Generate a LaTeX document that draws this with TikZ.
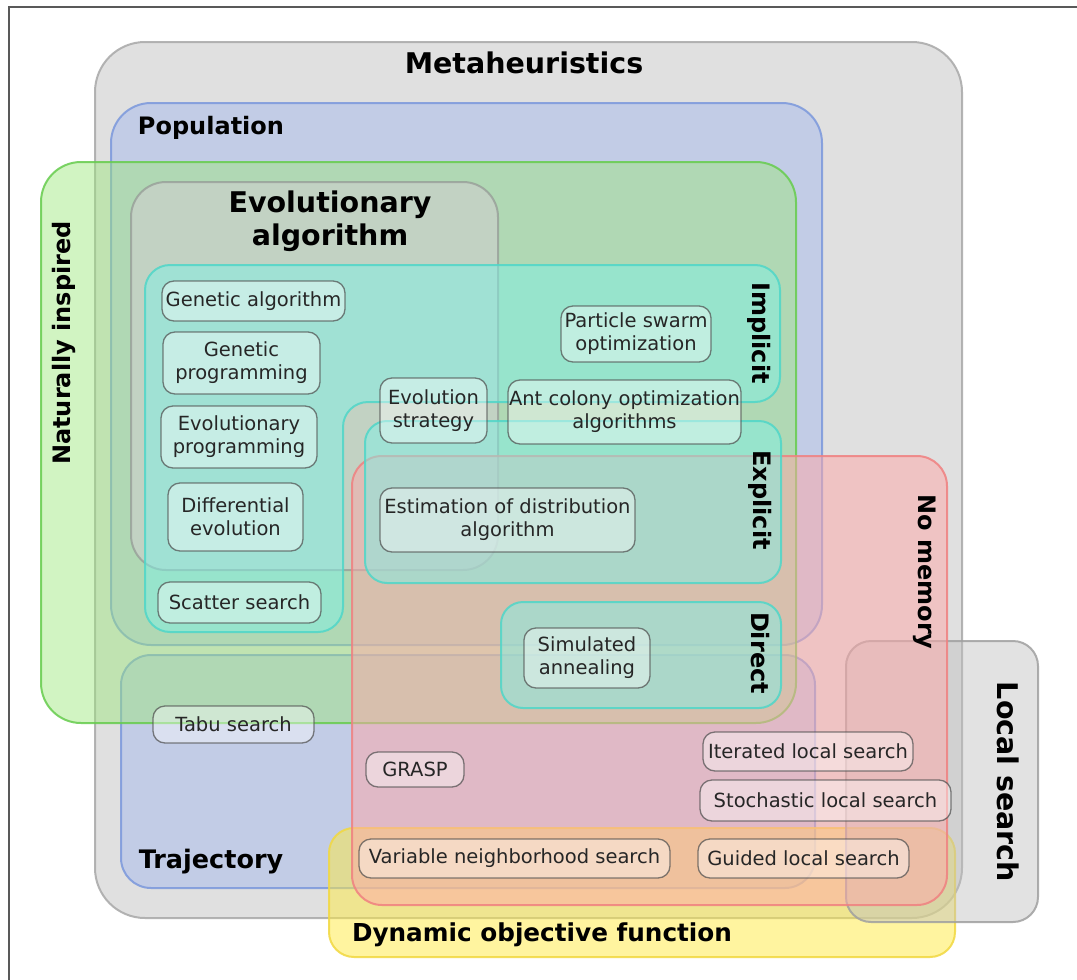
\documentclass[tikz,border=0pt]{standalone}
\usepackage{fontspec}
\setmainfont{DejaVu Sans}
\usetikzlibrary{positioning}

\definecolor{metafill}{HTML}{E0E0E0}
\definecolor{metaline}{HTML}{A8A8A8}
\definecolor{popfill}{HTML}{A6BAEC}
\definecolor{popline}{HTML}{7B98DC}
\definecolor{natfill}{HTML}{9BE879}
\definecolor{natline}{HTML}{66CC4D}
\definecolor{evofill}{HTML}{D4CDD3}
\definecolor{evoline}{HTML}{8C8C8C}
\definecolor{tealfill}{HTML}{80F0E5}
\definecolor{tealline}{HTML}{4FD6C8}
\definecolor{memfill}{HTML}{FFA8A8}
\definecolor{memline}{HTML}{F08080}
\definecolor{lsfill}{HTML}{C0C0C0}
\definecolor{lsline}{HTML}{A0A0A0}
\definecolor{dynfill}{HTML}{FFEB41}
\definecolor{dynline}{HTML}{F2D840}

\begin{document}
\begin{tikzpicture}[x=1pt,y=-1pt,
    region/.style={line width=2pt,fill opacity=0.5,draw opacity=0.85,rounded corners=#1},
    region/.default=30pt,
    algo/.style={draw=black!70,draw opacity=0.7,line width=1.3pt,fill=white,
        fill opacity=0.4,text opacity=1,text=black!85,rounded corners=12pt,
        inner sep=0pt,align=center,font=\fontsize{19.5}{23}\selectfont},
    title/.style={inner sep=0pt,align=center,font=\bfseries\fontsize{24}{29}\selectfont},
    bigtitle/.style={title,font=\bfseries\fontsize{28.5}{33}\selectfont}]

    \useasboundingbox (0,0) rectangle (1077,980);
    \fill[white] (0,0) rectangle (1077,980);
    \draw[line width=1.5pt,black!65] (9,980) |- (1077,7);

    % sets
    \draw[region=50pt,fill=metafill,draw=metaline,fill opacity=1] (95,42) rectangle (962,918);
    \draw[region=40pt,fill=popfill,draw=popline] (111,103) rectangle (822,645);
    \draw[region=30pt,fill=popfill,draw=popline] (121,655) rectangle (815,888);
    \draw[region=40pt,fill=natfill,draw=natline,fill opacity=0.45] (41,162) rectangle (796,723);
    \draw[region=35pt,fill=evofill,draw=evoline,draw opacity=0.6] (131,182) rectangle (498,570);
    \draw[region=25pt,fill=dynfill,draw=dynline] (329,828) rectangle (955,957);
    \draw[region=25pt,fill=lsfill,draw=lsline,fill opacity=0.45] (846,641) rectangle (1038,922);
    \draw[region=30pt,fill=memfill,draw=memline] (352,456) rectangle (947,905);
    \draw[region=25pt,fill=tealfill,draw=tealline]
        (145,265) -- (780,265) -- (780,402) -- (343,402) -- (343,632) -- (145,632) -- cycle;
    \draw[region=22pt,fill=tealfill,draw=tealline] (365,421) rectangle (781,583);
    \draw[region=22pt,fill=tealfill,draw=tealline] (501,602) rectangle (781,708);

    % set labels
    \node[bigtitle] (meta) at (524,63) {Metaheuristics};
    \node[title] (pop) at (211,128) {Population};
    \node[bigtitle] (evo) at (330,221) {Evolutionary\\algorithm};
    \node[title,rotate=90] (nat) at (64,343) {Naturally inspired};
    \node[title,rotate=-90] (impl) at (759,333) {Implicit};
    \node[title,rotate=-90] (expl) at (760,500) {Explicit};
    \node[title,rotate=-90] (dir) at (760,653) {Direct};
    \node[title,rotate=-90] (nomem) at (925,572) {No memory};
    \node[bigtitle,rotate=-90] (ls) at (1008,782) {Local search};
    \node[title,font=\bfseries\fontsize{25.5}{30}\selectfont] (traj) at (211,862) {Trajectory};
    \node[title,font=\bfseries\fontsize{24.7}{30}\selectfont] (dyn) at (542,935) {Dynamic objective function};

    % algorithms
    \node[algo,minimum width=183pt,minimum height=40pt] (ga) at (253.5,301) {Genetic algorithm};
    \node[algo,minimum width=157pt,minimum height=62pt] (gp) at (241.5,363) {Genetic\\programming};
    \node[algo,minimum width=156pt,minimum height=62pt] (ep) at (239,437) {Evolutionary\\programming};
    \node[algo,minimum width=135pt,minimum height=68pt] (de) at (235.5,517) {Differential\\evolution};
    \node[algo,minimum width=163pt,minimum height=41pt] (ss) at (239.5,602.5) {Scatter search};
    \node[algo,minimum width=150pt,minimum height=56pt] (pso) at (636,334) {Particle swarm\\optimization};
    \node[algo,minimum width=107pt,minimum height=65pt] (es) at (433.5,410.5) {Evolution\\strategy};
    \node[algo,minimum width=233pt,minimum height=64pt] (aco) at (624.5,412) {Ant colony optimization\\algorithms};
    \node[algo,minimum width=255pt,minimum height=64pt] (eda) at (507.5,520) {Estimation of distribution\\algorithm};
    \node[algo,minimum width=126pt,minimum height=60pt] (sa) at (587,658) {Simulated\\annealing};
    \node[algo,minimum width=161pt,minimum height=37pt] (ts) at (233.5,724.5) {Tabu search};
    \node[algo,minimum width=98pt,minimum height=35pt] (grasp) at (415,769.5) {GRASP};
    \node[algo,minimum width=210pt,minimum height=39pt] (ils) at (808,751.5) {Iterated local search};
    \node[algo,minimum width=251pt,minimum height=41pt] (sls) at (825.5,800.5) {Stochastic local search};
    \node[algo,minimum width=311pt,minimum height=39pt] (vns) at (514.5,858.5) {Variable neighborhood search};
    \node[algo,minimum width=211pt,minimum height=39pt] (gls) at (803.5,858.5) {Guided local search};
\end{tikzpicture}
\end{document}
